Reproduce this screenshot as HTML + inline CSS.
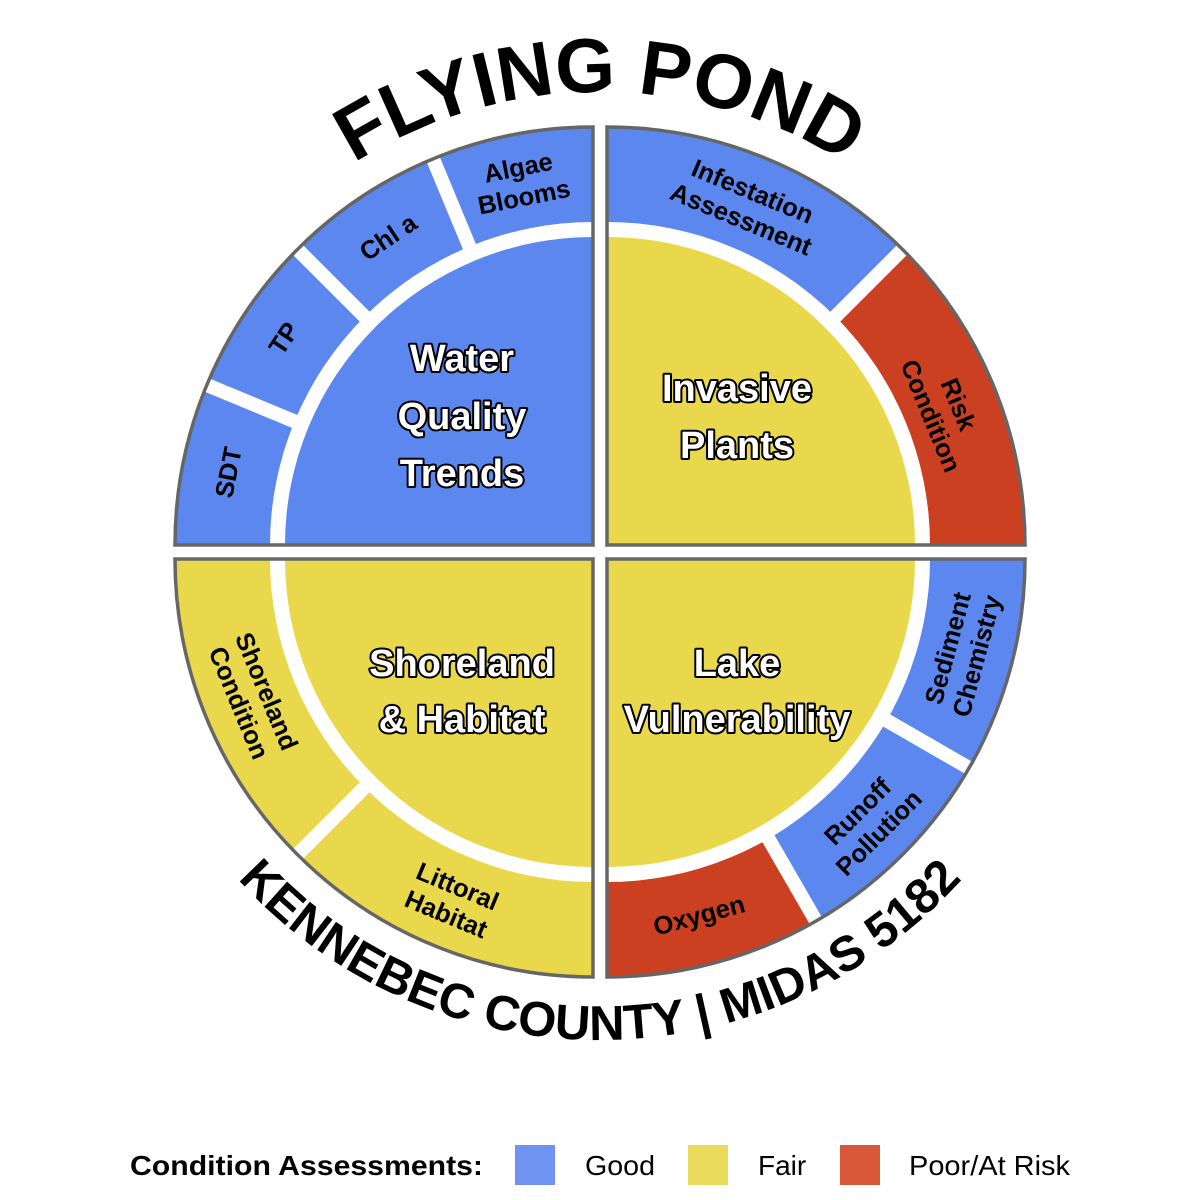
<!DOCTYPE html>
<html><head><meta charset="utf-8"><style>
html,body{margin:0;padding:0;background:#fff;}
svg{display:block;font-family:"Liberation Sans",Arial,sans-serif;}
.rl{font-size:25.5px;font-weight:bold;fill:#000;text-anchor:middle;}
.cl{font-size:38px;font-weight:bold;fill:#fff;stroke:#000;stroke-width:4;paint-order:stroke;stroke-linejoin:round;text-anchor:middle;}
</style></head><body>
<svg width="1200" height="1200" viewBox="0 0 1200 1200">
<defs>
<path id="tp" d="M201.6,322 A460,460 0 0 1 998.4,322"/>
<path id="bp" d="M177.4,796 A488,488 0 0 0 1022.6,796"/>
</defs>
<text font-size="77" font-weight="bold" text-anchor="middle" fill="#000"><textPath href="#tp" startOffset="50%">FLYING POND</textPath></text>
<text font-size="49" font-weight="bold" text-anchor="middle" fill="#000"><textPath href="#bp" startOffset="50%">KENNEBEC COUNTY | MIDAS 5182</textPath></text>

<!-- TL -->
<path d="M593,545 L593,128 A417,417 0 0 0 176,545 Z" fill="#5B87EE"/>
<g stroke="#fff" stroke-width="14">
<line x1="593" y1="545" x2="428.4" y2="147.7"/>
<line x1="593" y1="545" x2="288.9" y2="240.9"/>
<line x1="593" y1="545" x2="195.7" y2="380.4"/>
</g>
<path d="M593,545 L593,222 A323,323 0 0 0 270,545 Z" fill="#fff"/>
<path d="M593,545 L593,237 A308,308 0 0 0 285,545 Z" fill="#5B87EE"/>
<path d="M593,545 L593,127 A418,418 0 0 0 175,545 Z" fill="none" stroke="#666" stroke-width="3.5"/>

<!-- TR -->
<path d="M607,545 L607,128 A417,417 0 0 1 901.9,250.1 Z" fill="#5B87EE"/>
<path d="M607,545 L901.9,250.1 A417,417 0 0 1 1024,545 Z" fill="#CC4022"/>
<line x1="607" y1="545" x2="911.1" y2="240.9" stroke="#fff" stroke-width="14"/>
<path d="M607,545 L607,222 A323,323 0 0 1 930,545 Z" fill="#fff"/>
<path d="M607,545 L607,237 A308,308 0 0 1 915,545 Z" fill="#E9D84B"/>
<path d="M607,545 L607,127 A418,418 0 0 1 1025,545 Z" fill="none" stroke="#666" stroke-width="3.5"/>

<!-- BL -->
<path d="M593,559 L176,559 A417,417 0 0 0 593,976 Z" fill="#E9D84B"/>
<line x1="593" y1="559" x2="288.9" y2="863.1" stroke="#fff" stroke-width="14"/>
<path d="M593,559 L270,559 A323,323 0 0 0 593,882 Z" fill="#fff"/>
<path d="M593,559 L285,559 A308,308 0 0 0 593,867 Z" fill="#E9D84B"/>
<path d="M593,559 L175,559 A418,418 0 0 0 593,977 Z" fill="none" stroke="#666" stroke-width="3.5"/>

<!-- BR -->
<path d="M607,559 L1024,559 A417,417 0 0 1 815.5,920.1 Z" fill="#5B87EE"/>
<path d="M607,559 L815.5,920.1 A417,417 0 0 1 607,976 Z" fill="#CC4022"/>
<g stroke="#fff" stroke-width="14">
<line x1="607" y1="559" x2="979.4" y2="774"/>
<line x1="607" y1="559" x2="822" y2="931.4"/>
</g>
<path d="M607,559 L930,559 A323,323 0 0 1 607,882 Z" fill="#fff"/>
<path d="M607,559 L915,559 A308,308 0 0 1 607,867 Z" fill="#E9D84B"/>
<path d="M607,559 L1025,559 A418,418 0 0 1 607,977 Z" fill="none" stroke="#666" stroke-width="3.5"/>

<!-- ring labels -->
<g class="rl">
<text transform="translate(228.1,472.4) rotate(-78.75)" y="9">SDT</text>
<text transform="translate(283.7,338.3) rotate(-56.25)" y="9">TP</text>
<text transform="translate(388,237) rotate(-33.75)" y="9">Chl a</text>
<text transform="translate(521,182) rotate(-11.25)"><tspan x="0" y="-6">Algae</tspan><tspan x="0" y="24">Blooms</tspan></text>
<text transform="translate(747,205) rotate(22.5)"><tspan x="0" y="-6">Infestation</tspan><tspan x="0" y="24">Assessment</tspan></text>
<text transform="translate(945,410) rotate(67.5)"><tspan x="0" y="-6">Risk</tspan><tspan x="0" y="24">Condition</tspan></text>
<text transform="translate(253,697) rotate(67.5)"><tspan x="0" y="-6">Shoreland</tspan><tspan x="0" y="24">Condition</tspan></text>
<text transform="translate(452,900) rotate(22.5)"><tspan x="0" y="-6">Littoral</tspan><tspan x="0" y="24">Habitat</tspan></text>
<text transform="translate(962,652) rotate(-75)"><tspan x="0" y="-6">Sediment</tspan><tspan x="0" y="24">Chemistry</tspan></text>
<text transform="translate(868,822) rotate(-45)"><tspan x="0" y="-6">Runoff</tspan><tspan x="0" y="24">Pollution</tspan></text>
<text transform="translate(699,915) rotate(-15)" y="9">Oxygen</text>
</g>

<!-- center labels -->
<g class="cl">
<text x="462" y="371">Water</text>
<text x="462" y="429">Quality</text>
<text x="462" y="486">Trends</text>
<text x="737" y="401">Invasive</text>
<text x="737" y="458">Plants</text>
<text x="462" y="676">Shoreland</text>
<text x="462" y="732">&amp; Habitat</text>
<text x="737" y="676">Lake</text>
<text x="737" y="732">Vulnerability</text>
</g>

<!-- legend -->
<text x="130" y="1175" font-size="28" font-weight="bold" fill="#000" textLength="353" lengthAdjust="spacingAndGlyphs">Condition Assessments:</text>
<rect x="515" y="1145" width="40" height="40" fill="#6E93F0"/>
<text x="585" y="1175" font-size="28" fill="#000" textLength="70" lengthAdjust="spacingAndGlyphs">Good</text>
<rect x="688" y="1145" width="40" height="40" fill="#EBDB5C"/>
<text x="758" y="1175" font-size="28" fill="#000">Fair</text>
<rect x="840" y="1145" width="40" height="40" fill="#D9583A"/>
<text x="909" y="1175" font-size="28" fill="#000" textLength="161" lengthAdjust="spacingAndGlyphs">Poor/At Risk</text>
</svg>
</body></html>
